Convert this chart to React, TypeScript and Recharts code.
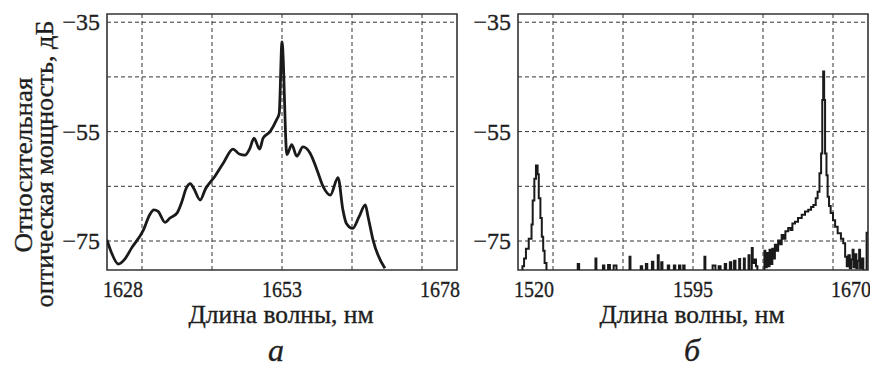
import { LineChart, Line, XAxis, YAxis, CartesianGrid, ReferenceArea } from 'recharts';

// spectrum (a): wavelength nm, relative power dB
const spectrumA: [number, number][] = [
  [1628.0, -74.8], [1628.6, -77.0], [1629.6, -79.2], [1630.6, -78.2], [1631.5, -76.3],
  [1633.2, -73.0], [1634.1, -70.2], [1634.7, -69.3], [1635.3, -69.6], [1636.3, -71.6],
  [1637.0, -70.8], [1638.0, -69.9], [1638.7, -67.8], [1639.3, -65.4], [1639.9, -64.5],
  [1640.4, -65.4], [1641.3, -67.5], [1642.1, -65.4], [1643.4, -63.2], [1644.6, -60.8],
  [1646.0, -58.2], [1646.9, -59.1], [1647.7, -59.3], [1648.4, -58.1], [1649.0, -56.2],
  [1649.8, -58.2], [1650.3, -56.2], [1651.3, -55.0], [1652.2, -52.9], [1652.6, -51.7],
  [1653.0, -38.6], [1653.7, -59.2], [1654.4, -57.4], [1655.1, -59.5], [1656.0, -57.8],
  [1657.0, -58.9], [1658.0, -62.0], [1658.9, -65.1], [1659.9, -66.6], [1661.0, -63.4],
  [1661.7, -69.3], [1662.2, -71.8], [1663.1, -72.7], [1664.0, -70.6], [1664.9, -68.4],
  [1665.3, -70.6], [1666.0, -74.8], [1667.7, -80.0],
];

// spectrum (б): stepped OSA trace, -82 = below the display floor
const spectrumB: [number, number][] = [
  [1520.0, -82], [1521.9, -82], [1521.9, -79.6], [1522.6, -79.6], [1522.6, -78.2], [1523.4, -78.2],
  [1523.4, -76.4], [1524.6, -76.4], [1524.6, -74.6], [1525.8, -74.6], [1525.8, -72], [1526.3, -72],
  [1526.3, -67.6], [1527.0, -67.6], [1527.0, -63.6], [1527.7, -63.6], [1527.7, -61.2], [1528.4, -61.2],
  [1528.4, -62.8], [1528.9, -62.8], [1528.9, -67.2], [1529.6, -67.2], [1529.6, -70.8], [1530.2, -70.8],
  [1530.2, -74.2], [1530.8, -74.2], [1530.8, -76.8], [1531.4, -76.8], [1531.4, -79], [1532.2, -79],
  [1532.2, -82],
  [1545.6, -82], [1545.6, -79.2], [1546.2, -79.2], [1546.2, -82],
  [1553.2, -82], [1553.2, -78.2], [1553.6, -78.2], [1553.6, -82],
  [1556.4, -82], [1556.4, -79.5], [1557.0, -79.5], [1557.0, -82],
  [1558.6, -82], [1558.6, -79.4], [1559.4, -79.4], [1559.4, -82],
  [1561.0, -82], [1561.0, -79.5], [1562.2, -79.5], [1562.2, -82],
  [1567.8, -82], [1567.8, -77.9], [1568.2, -77.9], [1568.2, -82],
  [1572.6, -82], [1572.6, -79.6], [1573.2, -79.6], [1573.2, -82],
  [1574.8, -82], [1574.8, -79.2], [1575.4, -79.2], [1575.4, -82],
  [1577.4, -82], [1577.4, -78.8], [1578.0, -78.8], [1578.0, -82],
  [1579.9, -82], [1579.9, -77.6], [1580.3, -77.6], [1580.3, -82],
  [1581.4, -82], [1581.4, -78.9], [1581.9, -78.9], [1581.9, -82],
  [1584.2, -82], [1584.2, -79.5], [1584.8, -79.5], [1584.8, -82],
  [1586.8, -82], [1586.8, -79.5], [1587.4, -79.5], [1587.4, -82],
  [1589.0, -82], [1589.0, -79.5], [1589.6, -79.5], [1589.6, -82],
  [1590.8, -82], [1590.8, -79.5], [1591.4, -79.5], [1591.4, -82],
  [1599.9, -82], [1599.9, -77.9], [1600.3, -77.9], [1600.3, -82],
  [1603.4, -82], [1603.4, -79.5], [1604.6, -79.5], [1604.6, -82],
  [1606.0, -82], [1606.0, -79.6], [1606.8, -79.6], [1606.8, -82],
  [1608.6, -82], [1608.6, -79.2], [1609.2, -79.2], [1609.2, -82],
  [1610.8, -82], [1610.8, -78.9], [1611.4, -78.9], [1611.4, -82],
  [1612.6, -82], [1612.6, -78.6], [1613.2, -78.6], [1613.2, -82],
  [1614.8, -82], [1614.8, -78.3], [1615.2, -78.3], [1615.2, -82],
  [1616.8, -82], [1616.8, -78.2], [1617.2, -78.2], [1617.2, -82],
  [1618.8, -82], [1618.8, -77.6], [1619.2, -77.6], [1619.2, -82],
  [1620.2, -82], [1620.2, -76.3], [1620.6, -76.3], [1620.6, -79], [1621.2, -79], [1621.2, -78.4],
  [1622.0, -78.4], [1622.0, -79.6], [1622.6, -79.6], [1622.6, -82],
  [1625.6, -82], [1625.6, -76.8], [1626.0, -76.8], [1626.0, -79.8], [1626.6, -79.8], [1626.6, -77.2],
  [1627.2, -77.2], [1627.2, -79.6], [1627.8, -79.6], [1627.8, -76.6], [1628.4, -76.6], [1628.4, -79.2],
  [1629.0, -79.2], [1629.0, -76.4], [1629.6, -76.4], [1629.6, -78.2], [1630.1, -78.2], [1630.1, -75.7],
  [1630.8, -75.7], [1630.8, -76.8], [1631.5, -76.8], [1631.5, -74.9], [1632.2, -74.9], [1632.2, -75.6],
  [1633.0, -75.6], [1633.0, -73.9], [1633.8, -73.9], [1633.8, -74.6], [1634.6, -74.6], [1634.6, -73.2],
  [1635.8, -73.2], [1635.8, -72.6], [1636.8, -72.6], [1636.8, -73.0], [1637.6, -73.0], [1637.6, -71.8],
  [1638.7, -71.8], [1638.7, -71.5], [1640.0, -71.5], [1640.0, -70.8], [1641.6, -70.8], [1641.6, -70.2],
  [1643.0, -70.2], [1643.0, -69.6], [1644.4, -69.6], [1644.4, -69.3], [1645.6, -69.3], [1645.6, -68.8],
  [1646.6, -68.8], [1646.6, -68.4], [1647.6, -68.4], [1647.6, -67.2], [1648.4, -67.2], [1648.4, -66.0],
  [1649.2, -66.0], [1649.2, -62.6], [1649.9, -62.6], [1649.9, -59.0], [1650.4, -59.0], [1650.4, -49.2],
  [1650.8, -49.2], [1650.8, -44.0], [1651.2, -44.0], [1651.2, -49.2], [1651.6, -49.2], [1651.6, -59.0],
  [1652.2, -59.0], [1652.2, -63], [1652.7, -63], [1652.7, -66.9], [1653.3, -66.9], [1653.3, -68.6],
  [1654.0, -68.6], [1654.0, -69.9], [1655.0, -69.9], [1655.0, -71.2], [1655.9, -71.2], [1655.9, -72.4],
  [1657.0, -72.4], [1657.0, -73.6], [1658.4, -73.6], [1658.4, -74.6], [1659.4, -74.6], [1659.4, -75.4],
  [1660.2, -75.4], [1660.2, -77.9], [1660.9, -77.9], [1660.9, -79.6],
  [1661.6, -79.6], [1661.6, -77.6], [1662.2, -77.6], [1662.2, -80], [1662.8, -80], [1662.8, -78.4],
  [1663.4, -78.4], [1663.4, -76.6], [1663.8, -76.6], [1663.8, -79.8], [1664.4, -79.8], [1664.4, -77.4],
  [1665.0, -77.4], [1665.0, -80], [1665.6, -80], [1665.6, -78.6], [1666.2, -78.6], [1666.2, -76.6],
  [1666.6, -76.6], [1666.6, -80], [1667.4, -80], [1667.4, -78.2], [1668.0, -78.2], [1668.0, -82],
  [1669.4, -82], [1669.4, -73.5], [1670.0, -73.5],
];

const domainA: [number, number] = [1628, 1678];
const domainB: [number, number] = [1520, 1670];
const ticksA = [1628, 1653, 1678];
const ticksB = [1520, 1595, 1670];
const gridA = [1633, 1643, 1653, 1663, 1673];
const gridB = [1535, 1565, 1595, 1625, 1655];
const powerDomain: [number, number] = [-80.3, -33.5];
const powerTicks = [-35, -55, -75];
const powerGrid = [-35, -45, -55, -65, -75];

const FONT = 'Liberation Serif, Tinos, serif';
const INK = '#1e1e1e';
const textInk = { fontFamily: FONT, fill: INK, stroke: INK, strokeWidth: 0.35 };

const toRows = (pts: [number, number][]) => pts.map(([wl, db]) => ({ wl, db }));

const makeWaveTick = (ticks: number[]) => (props: any) => {
  const { x, y, payload } = props;
  const first = payload.value === ticks[0];
  const last = payload.value === ticks[ticks.length - 1];
  const anchor = first ? 'start' : last ? 'end' : 'middle';
  const dx = first ? -4 : last ? 3 : 0;
  return (
    <text x={x + dx} y={y + 27} textAnchor={anchor} style={{ ...textInk, fontSize: 24 }}
      textLength={40} lengthAdjust="spacingAndGlyphs">
      {payload.value}
    </text>
  );
};

const PowerTick = (props: any) => {
  const { x, y, payload } = props;
  return (
    <text x={x - 7} y={y + 8} textAnchor="end" style={{ ...textInk, fontSize: 24 }}>
      {'\u2212' + Math.abs(payload.value)}
    </text>
  );
};

function Panel(props: {
  rows: { wl: number; db: number }[];
  domain: [number, number];
  ticks: number[];
  grid: number[];
  width: number;
  margin: { top: number; right: number; bottom: number; left: number };
  strokeWidth: number;
  curve: 'monotone' | 'linear';
}) {
  const { rows, domain, ticks, grid, width, margin, strokeWidth, curve } = props;
  return (
    <LineChart width={width} height={367} data={rows} margin={margin}>
      <CartesianGrid stroke="#333" strokeDasharray="4 3" strokeWidth={1}
        verticalValues={grid} horizontalValues={powerGrid} />
      <XAxis dataKey="wl" type="number" domain={domain} ticks={ticks} allowDataOverflow
        axisLine={false} tickLine={false} tickSize={0} tickMargin={0} height={30}
        tick={makeWaveTick(ticks)} interval={0} />
      <YAxis type="number" domain={powerDomain} ticks={powerTicks} allowDataOverflow
        axisLine={false} tickLine={false} tickSize={0} tickMargin={0} width={40}
        tick={<PowerTick />} interval={0} />
      <ReferenceArea x1={domain[0]} x2={domain[1]} y1={powerDomain[0]} y2={powerDomain[1]}
        fill="none" stroke="#333" strokeWidth={1.6} />
      <Line dataKey="db" type={curve} stroke="#1a1a1a" strokeWidth={strokeWidth}
        dot={false} activeDot={false} isAnimationActive={false} />
    </LineChart>
  );
}

export default function App() {
  const titleStyle = { ...textInk, fontSize: 25 };
  const letterStyle = { ...textInk, fontSize: 32, fontStyle: 'italic' };
  return (
    <div style={{ position: 'absolute', left: 0, top: 0, width: 870, height: 367, background: '#fff' }}>
      <div style={{ position: 'absolute', left: 0, top: 0 }}>
        <Panel rows={toRows(spectrumA)} domain={domainA} ticks={ticksA} grid={gridA} width={470}
          margin={{ top: 14, right: 13, bottom: 67, left: 67 }} strokeWidth={2.8} curve="monotone" />
      </div>
      <div style={{ position: 'absolute', left: 470, top: 0 }}>
        <Panel rows={toRows(spectrumB)} domain={domainB} ticks={ticksB} grid={gridB} width={400}
          margin={{ top: 14, right: 2, bottom: 67, left: 8 }} strokeWidth={2} curve="linear" />
      </div>
      <svg width={870} height={367} style={{ position: 'absolute', left: 0, top: 0, pointerEvents: 'none' }}>
        <text transform="translate(32,165) rotate(-90)" textAnchor="middle" style={titleStyle}
          textLength={175} lengthAdjust="spacingAndGlyphs">Относительная</text>
        <text transform="translate(53,164) rotate(-90)" textAnchor="middle" style={titleStyle}
          textLength={287} lengthAdjust="spacingAndGlyphs">оптическая мощность, дБ</text>
        <text x={281} y={323} textAnchor="middle" style={titleStyle}
          textLength={185} lengthAdjust="spacingAndGlyphs">Длина волны, нм</text>
        <text x={692} y={323} textAnchor="middle" style={titleStyle}
          textLength={185} lengthAdjust="spacingAndGlyphs">Длина волны, нм</text>
        <text x={276} y={361} textAnchor="middle" style={letterStyle}>а</text>
        <text x={692} y={361} textAnchor="middle" style={letterStyle}>б</text>
      </svg>
    </div>
  );
}
